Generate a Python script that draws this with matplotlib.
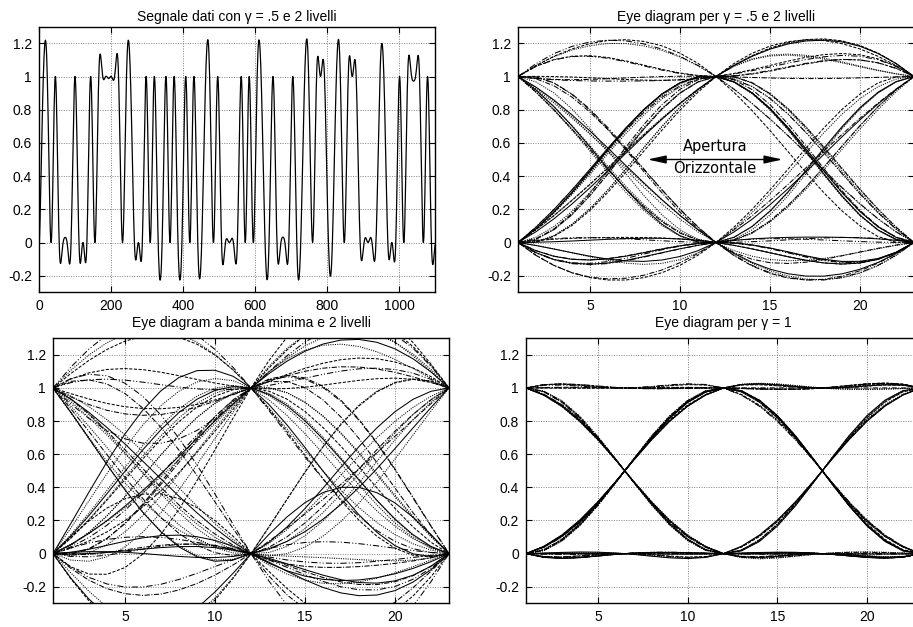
import numpy as np
import matplotlib
matplotlib.use("Agg")
import matplotlib.pyplot as plt

# ---- data (bit sequence of the 2-level signal) ----
bits = [0, 1, 1, 0, 1, 0, 0, 0, 0, 1,
        0, 0, 0, 1, 0, 1, 1, 1, 1, 1,
        1, 0, 1, 1, 0, 0, 0, 1, 0, 1,
        0, 0, 1, 0, 1, 0, 0, 1, 0, 1,
        0, 0, 1, 1, 0, 1, 0, 0, 0, 0,
        0, 1, 0, 1, 0, 1, 1, 0, 0, 1,
        0, 0, 0, 0, 1, 0, 0, 1, 1, 0,
        1, 1, 1, 0, 0, 1, 1, 0, 1, 1,
        1, 0, 0, 0, 0, 0, 1, 1, 0, 0,
        0, 1, 0, 1, 1, 1, 1, 0, 1, 0]
samples_per_symbol = 11
signal_length = 1100
rolloff_signal = 0.5
rolloff_eye = [0.5, 0.0, 1.0]

titles = ["Segnale dati con \u03b3 = .5 e 2 livelli",
          "Eye diagram per \u03b3 = .5 e 2 livelli",
          "Eye diagram a banda minima e 2 livelli",
          "Eye diagram per \u03b3 = 1"]
yticks = [-0.2, 0, 0.2, 0.4, 0.6, 0.8, 1, 1.2]
ytick_labels = ["-0.2", "0", "0.2", "0.4", "0.6", "0.8", "1", "1.2"]
xticks_signal = [0, 200, 400, 600, 800, 1000]
xticks_eye = [5, 10, 15, 20]
annot_top = "Apertura"
annot_bottom = "Orizzontale"


def raised_cosine(t, g):
    t = np.asarray(t, dtype=float)
    if g == 0:
        return np.sinc(t)
    den = 1.0 - (2.0 * g * t) ** 2
    sing = np.abs(den) < 1e-9
    out = np.sinc(t) * np.cos(np.pi * g * t) / np.where(sing, 1.0, den)
    out[sing] = np.pi / 4 * np.sinc(1.0 / (2.0 * g))
    return out


def build_signal(g):
    n = np.arange(signal_length)
    s = np.zeros(signal_length)
    for k, b in enumerate(bits):
        if b:
            s += raised_cosine((n - samples_per_symbol * k) / samples_per_symbol, g)
    return s


plt.rcParams['font.family'] = ['Liberation Sans', 'DejaVu Sans']
plt.rcParams['font.size'] = 10

W, H = 913, 627
fig = plt.figure(figsize=(W / 100, H / 100), dpi=100)


def ax_at(x0, y0, x1, y1):
    return fig.add_axes([x0 / W, 1 - y1 / H, (x1 - x0) / W, (y1 - y0) / H])


ax_sig = ax_at(39, 26.7, 435, 292.3)
ax_e1 = ax_at(518, 26.7, 914, 292.3)
ax_e0 = ax_at(53, 338.3, 449, 603.3)
ax_e2 = ax_at(526, 338.3, 921, 603.3)


def style(ax, title, xticks, pad):
    ax.set_ylim(-0.3, 1.3)
    ax.set_yticks(yticks)
    ax.set_yticklabels(ytick_labels)
    ax.set_xticks(xticks)
    ax.grid(True, linestyle=(0, (1, 1.5)), color='0.5', linewidth=0.7)
    ax.tick_params(direction='in', top=True, right=True, length=4, width=0.8,
                   labelsize=10, pad=5)
    for sp in ax.spines.values():
        sp.set_linewidth(1.0)
    ax.set_title(title, fontsize=10, pad=pad)


# top-left: data signal
sig = build_signal(rolloff_signal)
x_sig = np.arange(1, signal_length + 1)
ax_sig.plot(x_sig, sig, color='black', linewidth=0.9)
ax_sig.set_xlim(0, 1100)
style(ax_sig, titles[0], xticks_signal, 4)

line_styles = ['-', (0, (1, 1.2)), (0, (5, 1.5, 1, 1.5)), (0, (3, 1.5)),
               (0, (1, 1.2)), (0, (6, 2, 1, 2, 1, 2))]

span = 2 * samples_per_symbol + 1
x_eye = np.arange(1, span + 1)
eye_axes = [ax_e1, ax_e0, ax_e2]
eye_titles = [titles[1], titles[2], titles[3]]
pads = [4, 8, 8]
for ax, g, ttl, pd in zip(eye_axes, rolloff_eye, eye_titles, pads):
    s = build_signal(g)
    i = 0
    for k in range(0, len(bits) - 2, 2):
        start = samples_per_symbol * k
        seg = s[start:start + span]
        if len(seg) < span:
            break
        ax.plot(x_eye, seg, color='black', linewidth=0.75,
                linestyle=line_styles[i % len(line_styles)])
        i += 1
    ax.set_xlim(1, 23)
    style(ax, ttl, xticks_eye, pd)

# annotation on the gamma=.5 eye
ax_e1.annotate('', xy=(8.2, 0.5), xytext=(15.7, 0.5),
               arrowprops=dict(arrowstyle='<|-|>,head_length=1.0,head_width=0.22',
                               color='black', lw=1.0,
                               mutation_scale=11, shrinkA=0, shrinkB=0))
ax_e1.text(11.95, 0.58, annot_top, ha='center', va='center', fontsize=10.5,
           family='DejaVu Sans')
ax_e1.text(11.95, 0.445, annot_bottom, ha='center', va='center', fontsize=10.5,
           family='DejaVu Sans')

fig.savefig('out.png', dpi=100)
